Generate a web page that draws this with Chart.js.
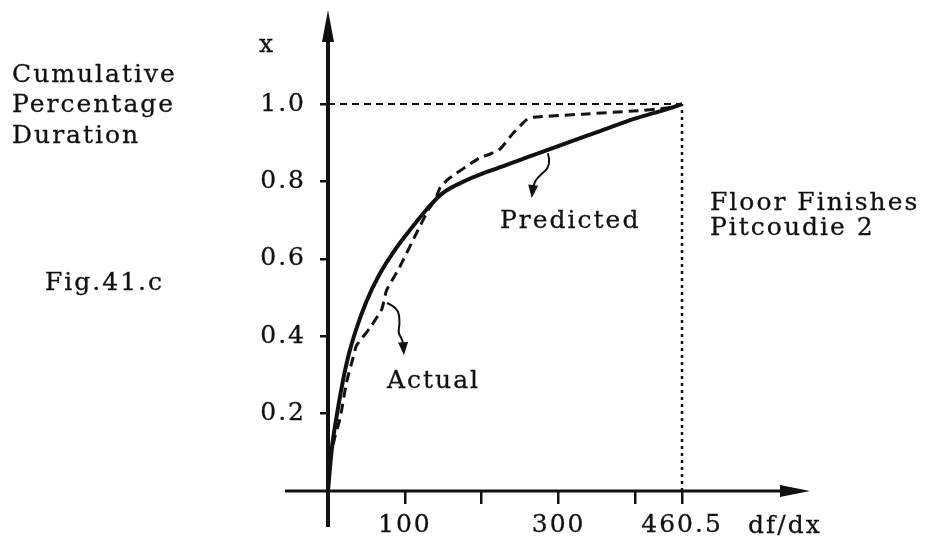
<!DOCTYPE html>
<html>
<head>
<meta charset="utf-8">
<script src="https://cdn.jsdelivr.net/npm/chart.js@4/dist/chart.umd.min.js"></script>
<style>
  html, body { margin: 0; padding: 0; background: #fff; }
  #wrap { width: 941px; height: 544px; position: relative; }
</style>
</head>
<body>
<div id="wrap"><canvas id="c"></canvas></div>
<script>
// ---------- data ----------
const predictedX = [0, 5, 11, 18, 26, 37, 50, 67, 86, 106, 128, 148, 180, 224, 267, 311, 354, 397, 441, 460.5];
const predictedY = [0, 0.11, 0.19, 0.27, 0.345, 0.42, 0.49, 0.56, 0.62, 0.673, 0.727, 0.768, 0.803, 0.837, 0.868, 0.90, 0.93, 0.961, 0.987, 1.0];

const actualX = [2, 9, 16, 24, 32, 37, 54, 70, 76, 93, 116, 130, 140, 146, 157, 197, 211, 224, 241, 259, 267, 331, 397, 441, 460.5];
const actualY = [0.08, 0.14, 0.19, 0.28, 0.34, 0.376, 0.42, 0.47, 0.518, 0.578, 0.67, 0.725, 0.755, 0.785, 0.807, 0.861, 0.871, 0.884, 0.925, 0.961, 0.966, 0.974, 0.982, 0.99, 1.0];

const xTicks = [100, 200, 300, 400, 460.5];
const xTickLabels = ['100', '', '300', '', '460.5'];
const yTicks = [0.2, 0.4, 0.6, 0.8, 1.0];
const yTickLabels = ['0.2', '0.4', '0.6', '0.8', '1.0'];

const finishX = 460.5;   // df/dx at completion
const finishY = 1.0;     // cumulative fraction at completion

const predictedArrow = [[286, 0.873], [291, 0.842], [272, 0.809], [267, 0.791], [265, 0.757]];
const actualArrow = [[76.7, 0.486], [91, 0.475], [93.6, 0.434], [91, 0.408], [97.5, 0.39], [98.8, 0.351]];

// ---------- helpers ----------
const FONT = '"DejaVu Serif", "Liberation Serif", serif';
const INK = '#111';
const SPACING = '2px';
const pts = (xs, ys) => xs.map((x, i) => ({ x: x, y: ys[i] }));

const axesPlugin = {
  id: 'axesAndNotes',
  beforeDraw(chart) {
    chart.ctx.letterSpacing = SPACING;
  },
  afterDraw(chart) {
    const ctx = chart.ctx;
    const xs = chart.scales.x, ys = chart.scales.y;
    const x0 = xs.getPixelForValue(0), y0 = ys.getPixelForValue(0);
    const area = chart.chartArea;
    ctx.save();
    ctx.strokeStyle = INK; ctx.fillStyle = INK;
    ctx.lineCap = 'butt';
    // x axis
    ctx.lineWidth = 3;
    ctx.beginPath();
    ctx.moveTo(xs.getPixelForValue(-56), y0);
    ctx.lineTo(area.right - 20, y0);
    ctx.stroke();
    ctx.beginPath();
    ctx.moveTo(area.right, y0);
    ctx.lineTo(area.right - 30, y0 - 6);
    ctx.lineTo(area.right - 30, y0 + 6);
    ctx.closePath(); ctx.fill();
    // y axis
    ctx.lineWidth = 4;
    ctx.beginPath();
    ctx.moveTo(x0, ys.getPixelForValue(-0.093));
    ctx.lineTo(x0, area.top + 20);
    ctx.stroke();
    ctx.beginPath();
    ctx.moveTo(x0, area.top - 2);
    ctx.lineTo(x0 - 6, area.top + 30);
    ctx.lineTo(x0 + 6, area.top + 30);
    ctx.closePath(); ctx.fill();

    // curly annotation arrows
    const drawArrow = (arr) => {
      const p = arr.map(a => [xs.getPixelForValue(a[0]), ys.getPixelForValue(a[1])]);
      ctx.lineWidth = 2;
      ctx.beginPath();
      ctx.moveTo(p[0][0], p[0][1]);
      for (let i = 1; i < p.length - 1; i++) {
        const mx = (p[i][0] + p[i + 1][0]) / 2, my = (p[i][1] + p[i + 1][1]) / 2;
        ctx.quadraticCurveTo(p[i][0], p[i][1], mx, my);
      }
      ctx.stroke();
      const a = p[p.length - 2], b = p[p.length - 1];
      const ang = Math.atan2(b[1] - a[1], b[0] - a[0]);
      const L = 13, W = 5;
      ctx.beginPath();
      ctx.moveTo(b[0], b[1]);
      ctx.lineTo(b[0] - L * Math.cos(ang) + W * Math.sin(ang), b[1] - L * Math.sin(ang) - W * Math.cos(ang));
      ctx.lineTo(b[0] - L * Math.cos(ang) - W * Math.sin(ang), b[1] - L * Math.sin(ang) + W * Math.cos(ang));
      ctx.closePath(); ctx.fill();
    };
    drawArrow(predictedArrow);
    drawArrow(actualArrow);

    // texts
    ctx.letterSpacing = SPACING;
    ctx.font = '25px ' + FONT;
    ctx.textBaseline = 'alphabetic';
    ctx.textAlign = 'left';
    ctx.lineWidth = 0.3;
    const txt = (s, x, y) => { ctx.fillText(s, x, y); ctx.strokeText(s, x, y); };
    txt('x', 259, 52);
    txt('Cumulative', 12, 82);
    txt('Percentage', 12, 112);
    txt('Duration', 12, 143);
    txt('Fig.41.c', 45, 290);
    txt('Floor Finishes', 710, 210);
    txt('Pitcoudie 2', 710, 235);
    txt('Predicted', 500, 228);
    txt('Actual', 387, 388);
    txt('df/dx', 748, 533);
    ctx.restore();
  }
};

const lineBase = { pointRadius: 0, borderColor: INK, fill: false, showLine: true, clip: false };

new Chart(document.getElementById('c'), {
  type: 'scatter',
  data: {
    datasets: [
      Object.assign({}, lineBase, { label: 'ref-h', data: [{ x: 0, y: finishY }, { x: finishX, y: finishY }], borderWidth: 2, borderDash: [7, 5] }),
      Object.assign({}, lineBase, { label: 'ref-v', data: [{ x: finishX, y: 0 }, { x: finishX, y: finishY }], borderWidth: 2.5, borderDash: [3, 4] }),
      Object.assign({}, lineBase, { label: 'Predicted', data: pts(predictedX, predictedY), borderWidth: 4, cubicInterpolationMode: 'monotone' }),
      Object.assign({}, lineBase, { label: 'Actual', data: pts(actualX, actualY), borderWidth: 3, borderDash: [10, 6], tension: 0.15 })
    ]
  },
  options: {
    responsive: true,
    maintainAspectRatio: false,
    animation: false,
    events: [],
    layout: { padding: { top: 12, right: 131, left: 0, bottom: 0 } },
    plugins: { legend: { display: false }, tooltip: { enabled: false } },
    scales: {
      x: {
        type: 'linear', min: 0, max: 627, position: 'bottom',
        afterBuildTicks: s => { s.ticks = xTicks.map(v => ({ value: v })); },
        afterFit: s => { s.height = 53; s.paddingLeft = 0; s.paddingRight = 0; },
        border: { display: false },
        grid: { drawOnChartArea: false, drawTicks: true, tickLength: 13, color: INK, lineWidth: 2.5 },
        ticks: {
          autoSkip: false, maxRotation: 0, padding: 6, color: INK,
          textStrokeColor: INK, textStrokeWidth: 0.3,
          font: { family: FONT, size: 25 },
          callback: (v, i) => xTickLabels[i]
        }
      },
      y: {
        type: 'linear', min: 0, max: 1.238, position: 'left',
        afterBuildTicks: s => { s.ticks = yTicks.map(v => ({ value: v })); },
        afterFit: s => { s.width = 328; s.paddingTop = 0; s.paddingBottom = 0; },
        border: { display: false },
        grid: { drawOnChartArea: false, drawTicks: true, tickLength: 8, color: INK, lineWidth: 2.5 },
        ticks: {
          autoSkip: false, padding: 14, color: INK,
          textStrokeColor: INK, textStrokeWidth: 0.3,
          font: { family: FONT, size: 25 },
          callback: (v, i) => yTickLabels[i]
        }
      }
    }
  },
  plugins: [axesPlugin]
});
</script>
</body>
</html>
